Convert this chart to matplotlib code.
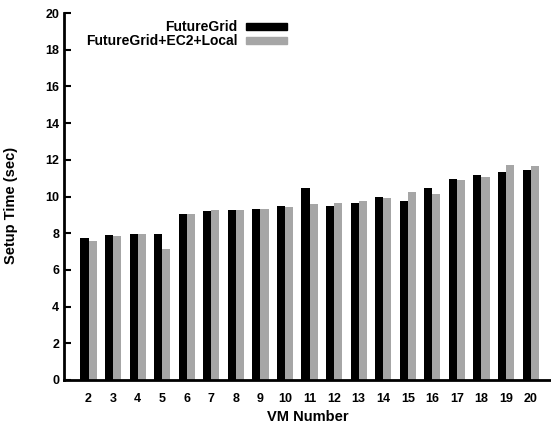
import matplotlib.pyplot as plt
import numpy as np
from matplotlib.patches import Patch

plt.rcParams['font.family'] = ['Liberation Sans', 'DejaVu Sans']
plt.rcParams['font.weight'] = 'bold'

vm_numbers = [2, 3, 4, 5, 6, 7, 8, 9, 10, 11, 12, 13, 14, 15, 16, 17, 18, 19, 20]
futuregrid = [7.73, 7.89, 7.96, 7.96, 9.07, 9.22, 9.24, 9.31, 9.49, 10.46,
              9.49, 9.67, 9.95, 9.76, 10.49, 10.96, 11.15, 11.33, 11.47]
hybrid = [7.56, 7.84, 7.93, 7.16, 9.02, 9.24, 9.24, 9.33, 9.44, 9.58,
          9.64, 9.76, 9.91, 10.24, 10.13, 10.89, 11.07, 11.69, 11.64]

fig = plt.figure(figsize=(5.51, 4.25), dpi=100)
ax = fig.add_axes([64 / 551, 45 / 425, 1 - 64 / 551, 367 / 425])

x = np.array(vm_numbers)
w = 0.33
ax.bar(x - w / 2, futuregrid, w, color='black')
ax.bar(x + w / 2, hybrid, w, color='#a6a6a6')

ax.set_xlim(1.0, 20.83)
ax.set_ylim(0, 20)
ax.set_yticks(range(0, 21, 2))
ax.set_xticks(vm_numbers)
ax.tick_params(axis='y', direction='in', length=5, width=1.5, labelsize=9)
ax.tick_params(axis='x', length=0, labelsize=9, pad=9)

for s in ['top', 'right']:
    ax.spines[s].set_visible(False)
for s in ['left', 'bottom']:
    ax.spines[s].set_linewidth(2)

ax.set_xlabel('VM Number', fontsize=10.5, fontweight='bold')
ax.set_ylabel('Setup Time (sec)', fontsize=10.5, fontweight='bold')
ax.xaxis.set_label_coords(0.5, -0.083)
ax.yaxis.set_label_coords(-0.095, 0.477)

handles = [Patch(color='black'), Patch(color='#a6a6a6')]
ax.legend(handles, ['FutureGrid', 'FutureGrid+EC2+Local'], loc='upper right',
          bbox_to_anchor=(0.484, 1.014), frameon=False, markerfirst=False,
          handlelength=3.0, handleheight=0.45, labelspacing=0.0,
          handletextpad=0.58, prop={'weight': 'bold', 'size': 10})

fig.savefig('out.png', dpi=100)
